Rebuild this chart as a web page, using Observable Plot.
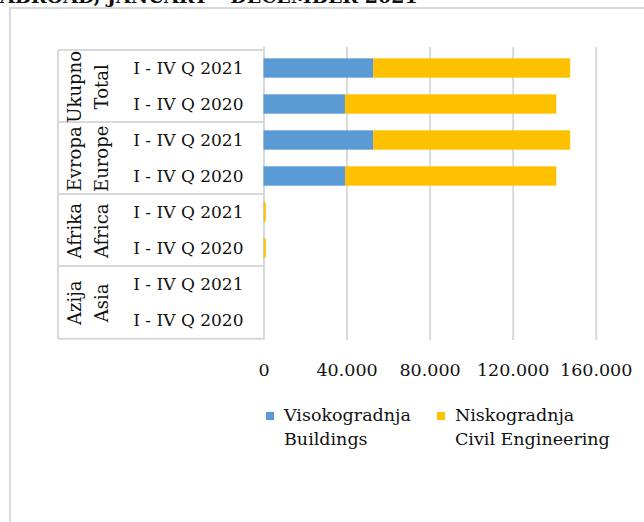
<!DOCTYPE html>
<html>
<head>
<meta charset="utf-8">
<script src="https://cdn.jsdelivr.net/npm/d3@7"></script>
<script src="https://cdn.jsdelivr.net/npm/@observablehq/plot@0.6"></script>
<style>
  html, body { margin: 0; padding: 0; background: #fff; }
  #wrap { position: relative; width: 644px; height: 522px; overflow: hidden; font-family: "DejaVu Serif", serif; }
  #frame { position: absolute; left: 9px; top: 7px; width: 700px; height: 600px; border-left: 2px solid #d9d9d9; border-top: 2px solid #d9d9d9; }
  #title { position: absolute; left: 0; top: -14px; font-size: 19px; line-height: 20px; font-weight: bold; color: #111; white-space: nowrap; }
  #chart { position: absolute; left: 0; top: 0; }
  #legend { position: absolute; left: 266px; top: 403px; display: flex; font-size: 17.5px; line-height: 24px; color: #111; }
  .item { display: flex; align-items: flex-start; }
  .sw { width: 8px; height: 8px; margin-top: 9px; margin-right: 10px; }
</style>
</head>
<body>
<div id="wrap">
  <div id="frame"></div>
  <div id="title">ABROAD, JANUARY – DECEMBER 2021</div>
  <div id="chart"></div>
  <div id="legend"></div>
</div>
<script>
// ---- data ----
const regions = ["Ukupno\nTotal", "Evropa\nEurope", "Afrika\nAfrica", "Azija\nAsia"];
const periods = ["I - IV Q 2021", "I - IV Q 2020"];
const seriesNames = ["Visokogradnja\nBuildings", "Niskogradnja\nCivil Engineering"];
const seriesColors = ["#5b9bd5", "#ffc000"];
// values per row: region x period (2021, 2020)
const buildings = [52800, 39300, 52800, 39300, 100, 100, 0, 0];
const civil     = [94900, 101700, 94900, 101700, 1000, 1000, 0, 0];
const xTicks = [0, 40000, 80000, 120000, 160000];

// ---- build table ----
const rows = [];
regions.forEach((r, i) => periods.forEach((p, j) => rows.push({region: r, period: p, key: r + "|" + p, idx: i * 2 + j})));
const data = [];
rows.forEach(row => {
  data.push({...row, series: seriesNames[0], value: buildings[row.idx]});
  data.push({...row, series: seriesNames[1], value: civil[row.idx]});
});
const keys = rows.map(d => d.key);
const firstRows = rows.filter((d, i) => i % 2 === 0);

const fmt = d3.formatLocale({decimal: ",", thousands: ".", grouping: [3], currency: ["", ""]}).format(",.0f");

const W = 644, H = 522;
const mTop = 47, mBottom = 182, mLeft = 263.5, mRight = 48.3;
const step = (H - mTop - mBottom) / keys.length;
const barInset = (step - 20) / 2;
const font = "DejaVu Serif, serif";

// category table lines, drawn from the y scale
const tableMark = (index, scales, values, dims) => {
  const g = d3.create("svg:g").attr("stroke", "#d9d9d9").attr("stroke-width", 2).attr("fill", "none");
  const x0 = dims.marginLeft;
  const xl = x0 - 205.5;
  const st = (dims.height - dims.marginTop - dims.marginBottom) / keys.length;
  const yTop = scales.y(keys[0]);
  const yBot = scales.y(keys[keys.length - 1]) + st;
  firstRows.forEach(r => {
    const yy = scales.y(r.key);
    g.append("line").attr("x1", xl).attr("x2", x0).attr("y1", yy).attr("y2", yy);
  });
  g.append("line").attr("x1", xl).attr("x2", x0).attr("y1", yBot).attr("y2", yBot);
  g.append("line").attr("x1", xl).attr("x2", xl).attr("y1", yTop).attr("y2", yBot);
  return g.node();
};

const chart = Plot.plot({
  width: W,
  height: H,
  marginTop: mTop,
  marginBottom: mBottom,
  marginLeft: mLeft,
  marginRight: mRight,
  style: {fontFamily: font, background: "transparent", color: "#111"},
  x: {domain: [0, 160000], ticks: xTicks, tickFormat: fmt},
  y: {domain: keys, padding: 0, axis: null},
  color: {domain: seriesNames, range: seriesColors},
  marks: [
    Plot.ruleX(xTicks, {x: d => d, stroke: "#d9d9d9", strokeWidth: 2}),
    tableMark,
    Plot.barX(data, Plot.stackX({
      y: "key", x: "value", fill: "series", order: seriesNames,
      insetTop: barInset, insetBottom: barInset
    })),
    Plot.text(rows, {
      y: "key", text: "period", frameAnchor: "left", dx: -20.5,
      textAnchor: "end", fontSize: 17, fill: "#111"
    }),
    Plot.text(firstRows, {
      y: "key", text: "region", frameAnchor: "left", dx: -178, dy: step / 2,
      rotate: -90, textAnchor: "middle", lineAnchor: "middle", lineHeight: 1.5,
      fontSize: 18, fill: "#111"
    }),
    Plot.axisX({
      ticks: xTicks, tickFormat: fmt, tickSize: 0, tickPadding: 23,
      fontSize: 17.5, label: null, fill: "#111"
    })
  ]
});
document.getElementById("chart").appendChild(chart);

// legend
const legend = document.getElementById("legend");
seriesNames.forEach((s, i) => {
  const it = document.createElement("div");
  it.className = "item";
  it.style.marginRight = i === 0 ? "26px" : "0";
  const sw = document.createElement("div");
  sw.className = "sw";
  sw.style.background = seriesColors[i];
  const tx = document.createElement("div");
  tx.innerHTML = s.split("\n").join("<br>");
  it.appendChild(sw); it.appendChild(tx);
  legend.appendChild(it);
});
</script>
</body>
</html>
